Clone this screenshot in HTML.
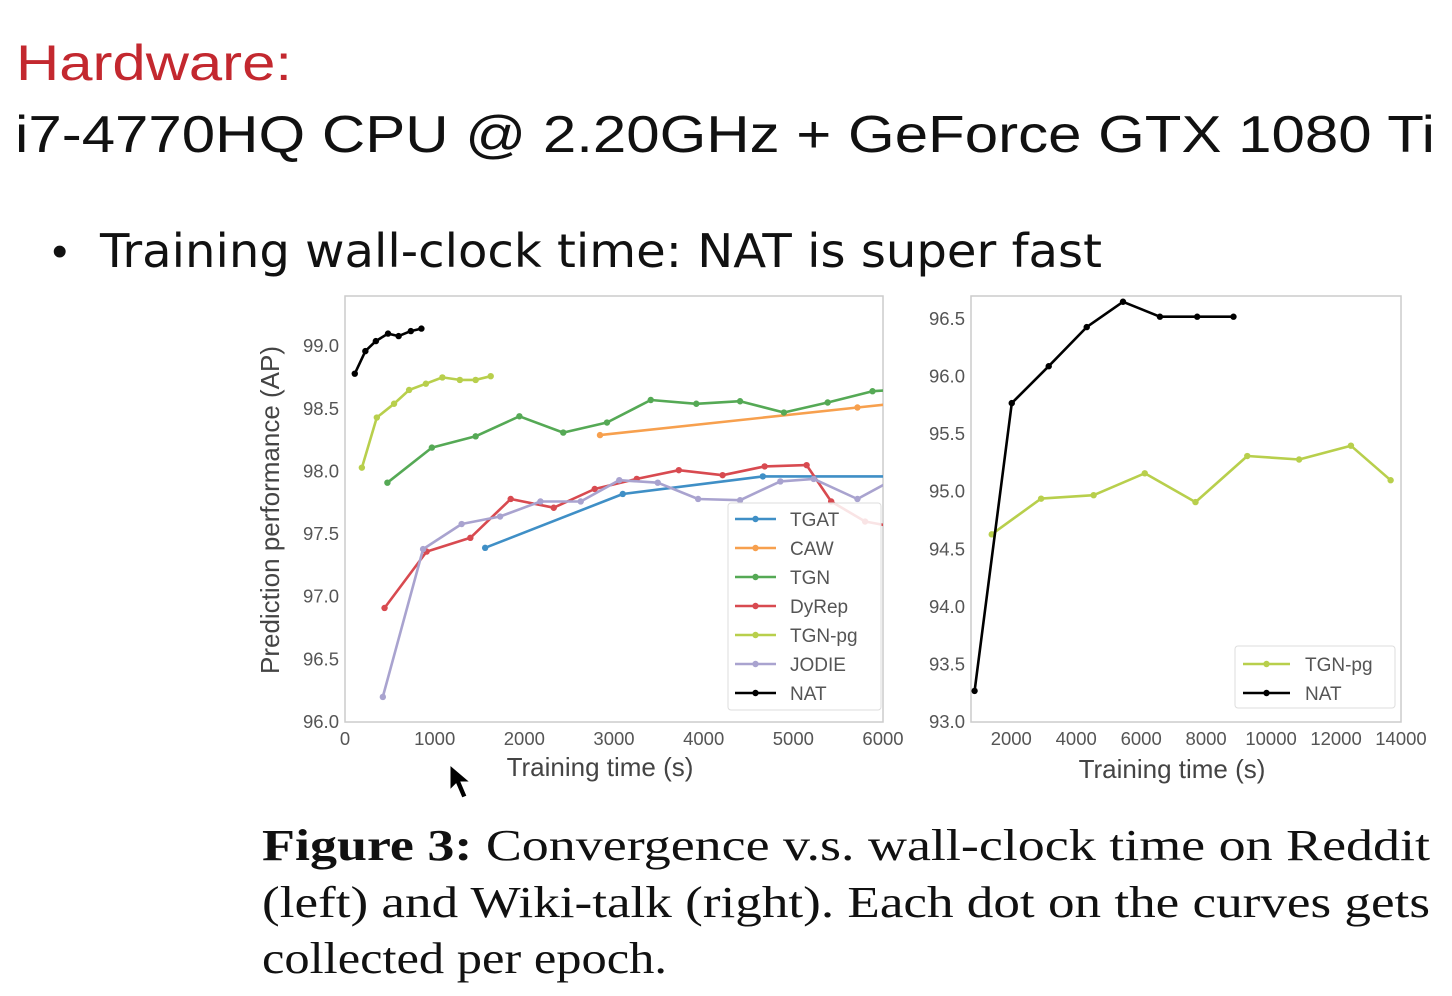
<!DOCTYPE html>
<html><head><meta charset="utf-8"><style>
html,body{margin:0;padding:0;background:#fff;}
svg{display:block;}
.tick{font-family:"Liberation Sans",sans-serif;font-size:18.5px;fill:#555;}
.ttl{font-family:"Liberation Sans",sans-serif;font-size:26px;fill:#444;}
.leg{font-family:"Liberation Sans",sans-serif;font-size:19px;fill:#555;}
</style></head><body>
<svg id="root" width="1452" height="996" viewBox="0 0 1452 996" xmlns="http://www.w3.org/2000/svg">
<text x="16" y="80" font-family="Liberation Sans, sans-serif" font-size="50" fill="#c3282f" textLength="276" lengthAdjust="spacingAndGlyphs">Hardware:</text>
<text x="15" y="152" font-family="Liberation Sans, sans-serif" font-size="52" fill="#111" textLength="1420" lengthAdjust="spacingAndGlyphs">i7-4770HQ CPU @ 2.20GHz + GeForce GTX 1080 Ti</text>
<text x="52" y="266" font-family="Liberation Sans, sans-serif" font-size="44" fill="#111">•</text>
<text x="100" y="267" font-family="DejaVu Sans, sans-serif" font-size="46" fill="#111" textLength="1002" lengthAdjust="spacingAndGlyphs">Training wall-clock time: NAT is super fast</text>

<g id="left"></g>
<g id="right"></g>

<polygon points="450,765 450,790 456,784 462,798 467,796 461,782 470,782" fill="#000" stroke="#fff" stroke-width="1"/>

<g font-family="Liberation Serif, serif" font-size="44" fill="#111">
<text x="262" y="860" textLength="1168" lengthAdjust="spacingAndGlyphs"><tspan font-weight="bold">Figure 3:</tspan> Convergence v.s. wall-clock time on Reddit</text>
<text x="262" y="917" textLength="1168" lengthAdjust="spacingAndGlyphs">(left) and Wiki-talk (right). Each dot on the curves gets</text>
<text x="262" y="973" textLength="405" lengthAdjust="spacingAndGlyphs">collected per epoch.</text>
</g>
</svg>
<script>
// ---- Left chart (Reddit) data ----
const leftSeriesNames = ["TGAT","CAW","TGN","DyRep","TGN-pg","JODIE","NAT"];
const leftColors = ["#3f8fc6","#f7a04e","#55a955","#d84a50","#b8cf4c","#a9a3cf","#000000"];
const tgatX = [1563,3098,4660,6100];
const tgatY = [97.39,97.82,97.96,97.96];
const cawX = [2844,5715,6100];
const cawY = [98.29,98.51,98.54];
const tgnX = [473,969,1457,1945,2434,2922,3410,3918,4406,4895,5383,5883,6100];
const tgnY = [97.91,98.19,98.28,98.44,98.31,98.39,98.57,98.54,98.56,98.47,98.55,98.64,98.65];
const dyrepX = [441,910,1398,1848,2328,2785,3254,3723,4211,4680,5148,5422,5800,6100];
const dyrepY = [96.91,97.36,97.47,97.78,97.71,97.86,97.94,98.01,97.97,98.04,98.05,97.76,97.60,97.56];
const tgnpgX = [188,355,547,715,902,1086,1281,1457,1625];
const tgnpgY = [98.03,98.43,98.54,98.65,98.70,98.75,98.73,98.73,98.76];
const jodieX = [422,871,1301,1730,2180,2629,3059,3488,3938,4406,4855,5227,5715,6100];
const jodieY = [96.2,97.38,97.58,97.64,97.76,97.76,97.93,97.91,97.78,97.77,97.92,97.94,97.78,97.93];
const natLX = [109,227,344,480,598,734,852];
const natLY = [98.78,98.96,99.04,99.10,99.08,99.12,99.14];
const leftXTicks = [0,1000,2000,3000,4000,5000,6000];
const leftYTicks = [96.0,96.5,97.0,97.5,98.0,98.5,99.0];

// ---- Right chart (Wiki-talk) data ----
const rightSeriesNames = ["TGN-pg","NAT"];
const rTgnpgX = [1398,2919,4536,6110,7672,9267,10863,12458,13681];
const rTgnpgY = [94.63,94.94,94.97,95.16,94.91,95.31,95.28,95.40,95.10];
const rNatX = [870,2015,3153,4323,5440,6577,7725,8842];
const rNatY = [93.27,95.77,96.09,96.43,96.65,96.52,96.52,96.52];
const rightXTicks = [2000,4000,6000,8000,10000,12000,14000];
const rightYTicks = [93.0,93.5,94.0,94.5,95.0,95.5,96.0,96.5];

const NS="http://www.w3.org/2000/svg";
function mk(tag,attrs,parent){const e=document.createElementNS(NS,tag);for(const k in attrs)e.setAttribute(k,attrs[k]);parent.appendChild(e);return e;}

function drawChart(g,box,xd,yd,series,xticks,yticks,yfmt,clipId){
  const sx=v=>box.l+(v-xd[0])/(xd[1]-xd[0])*(box.r-box.l);
  const sy=v=>box.b-(v-yd[0])/(yd[1]-yd[0])*(box.b-box.t);
  const defs=mk('defs',{},g);
  const cp=mk('clipPath',{id:clipId},defs);
  mk('rect',{x:box.l,y:box.t,width:box.r-box.l,height:box.b-box.t},cp);
  const frame=mk('rect',{x:box.l,y:box.t,width:box.r-box.l,height:box.b-box.t,fill:'none',stroke:'#ccc','stroke-width':1.5},g);
  
  
  xticks.forEach(v=>{
    const t=mk('text',{x:sx(v),y:box.b+23,'text-anchor':'middle',class:'tick'},g);t.textContent=String(v);
    
    
  });
  yticks.forEach(v=>{
    const t=mk('text',{x:box.l-6,y:sy(v)+6,'text-anchor':'end',class:'tick'},g);t.textContent=yfmt(v);
    
    
  });
  const pg=mk('g',{'clip-path':'url(#'+clipId+')'},g);
  series.forEach(s=>{
    const pts=s.x.map((x,i)=>sx(x).toFixed(1)+','+sy(s.y[i]).toFixed(1)).join(' ');
    const pl=mk('polyline',{points:pts,fill:'none',stroke:s.c,'stroke-width':2.6,'stroke-linejoin':'round'},pg);
    
    
    s.x.forEach((x,i)=>{
      const c=mk('circle',{cx:sx(x),cy:sy(s.y[i]),r:3.2,fill:s.c},pg);
      
      
    });
  });
}

const L=document.getElementById('left');
drawChart(L,{l:345,r:883,t:296,b:722},[0,6000],[96.0,99.4],[
  {n:leftSeriesNames[0],c:leftColors[0],x:tgatX,y:tgatY},
  {n:leftSeriesNames[1],c:leftColors[1],x:cawX,y:cawY},
  {n:leftSeriesNames[2],c:leftColors[2],x:tgnX,y:tgnY},
  {n:leftSeriesNames[3],c:leftColors[3],x:dyrepX,y:dyrepY},
  {n:leftSeriesNames[4],c:leftColors[4],x:tgnpgX,y:tgnpgY},
  {n:leftSeriesNames[5],c:leftColors[5],x:jodieX,y:jodieY},
  {n:leftSeriesNames[6],c:leftColors[6],x:natLX,y:natLY}
],leftXTicks,leftYTicks,v=>v.toFixed(1),'clipL');

const R=document.getElementById('right');
drawChart(R,{l:971,r:1401,t:296,b:722},[760,14000],[93.0,96.7],[
  {n:rightSeriesNames[0],c:"#b8cf4c",x:rTgnpgX,y:rTgnpgY},
  {n:rightSeriesNames[1],c:"#000000",x:rNatX,y:rNatY}
],rightXTicks,rightYTicks,v=>v.toFixed(1),'clipR');

// axis titles
let t=mk('text',{x:600,y:776,'text-anchor':'middle',class:'ttl'},L);t.textContent='Training time (s)';


t=mk('text',{x:0,y:0,'text-anchor':'middle',class:'ttl',transform:'translate(279,510) rotate(-90)'},L);t.textContent='Prediction performance (AP)';


t=mk('text',{x:1172,y:778,'text-anchor':'middle',class:'ttl'},R);t.textContent='Training time (s)';



// legends
function legend(g,box,names,colors,y0,dy,lx1,lx2,tx){
  const r=mk('rect',{x:box[0],y:box[1],width:box[2],height:box[3],fill:'#fff','fill-opacity':0.85,stroke:'#ddd',rx:3},g);
  
  
  names.forEach((n,i)=>{
    const y=y0+i*dy;
    const ln=mk('line',{x1:lx1,x2:lx2,y1:y,y2:y,stroke:colors[i],'stroke-width':2.6},g);
    
    
    mk('circle',{cx:(lx1+lx2)/2,cy:y,r:3.2,fill:colors[i]},g);
    const tx_=mk('text',{x:tx,y:y+7,class:'leg'},g);tx_.textContent=n;
    
    
  });
}
legend(L,[728,503,153,207],leftSeriesNames,leftColors,519,29,735,776,790);
legend(R,[1235,646,160,62],rightSeriesNames,["#b8cf4c","#000000"],664,29,1243,1290,1305);
</script>
</body></html>
